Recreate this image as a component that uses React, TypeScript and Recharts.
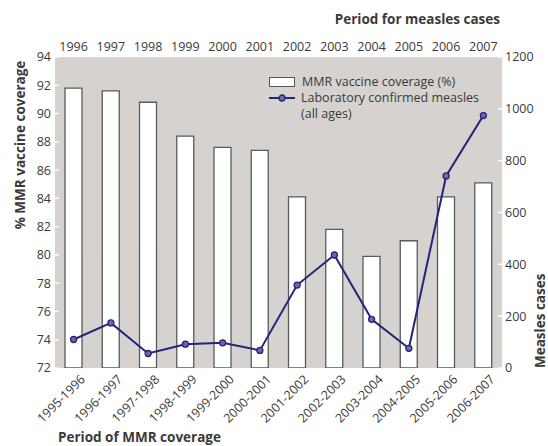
import React from 'react';
import { ComposedChart, Bar, Line, XAxis, YAxis, CartesianGrid, Legend } from 'recharts';

const periods = ['1995-1996', '1996-1997', '1997-1998', '1998-1999', '1999-2000', '2000-2001', '2001-2002', '2002-2003', '2003-2004', '2004-2005', '2005-2006', '2006-2007'];
const years = ['1996', '1997', '1998', '1999', '2000', '2001', '2002', '2003', '2004', '2005', '2006', '2007'];
const coverage = [91.8, 91.6, 90.8, 88.4, 87.6, 87.4, 84.1, 81.8, 79.9, 81.0, 84.1, 85.1];
const measles = [110, 174, 56, 92, 97, 68, 320, 436, 188, 76, 741, 974];
const leftTicks = [72, 74, 76, 78, 80, 82, 84, 86, 88, 90, 92, 94];
const rightTicks = [0, 200, 400, 600, 800, 1000, 1200];
const boundaryTicks = [1, 2, 3, 4, 5, 6, 7, 8, 9, 10, 11];

const data = periods.map((p, i) => ({ period: p, year: years[i], coverage: coverage[i], measles: measles[i] }));

const FONT = '"Open Sans", sans-serif';
const TEXT = '#3a3a3a';
const NAVY = '#25237a';

const BottomTick = (props: any) => {
  const { x, y, payload } = props;
  return (
    <g transform={`translate(${x + 6},${y + 4})`}>
      <text x={0} y={0} dy="0.7em" textAnchor="end" transform="rotate(-45)" fontFamily={FONT} fontSize={12.5} fill={TEXT}>
        {payload.value}
      </text>
    </g>
  );
};

const LegendContent = () => (
  <div style={{ fontFamily: FONT, fontSize: 12.5, color: TEXT, lineHeight: '16px', whiteSpace: 'nowrap' }}>
    <div style={{ display: 'flex', alignItems: 'center', height: 16 }}>
      <div style={{ width: 24, height: 8, background: '#fff', border: '1px solid #555', marginRight: 7 }} />
      <span>MMR vaccine coverage (%)</span>
    </div>
    <div style={{ display: 'flex', alignItems: 'center', height: 16 }}>
      <svg width={26} height={10} style={{ marginRight: 6 }}>
        <line x1={0} y1={5} x2={26} y2={5} stroke={NAVY} strokeWidth={2} />
        <circle cx={13} cy={5} r={3} fill="#6b69a8" stroke={NAVY} strokeWidth={1.3} />
      </svg>
      <span>Laboratory confirmed measles</span>
    </div>
    <div style={{ paddingLeft: 32, height: 16 }}>(all ages)</div>
  </div>
);

export default function App() {
  return (
    <div style={{ position: 'absolute', left: 0, top: 0, width: 548, height: 446, background: '#fff', overflow: 'hidden' }}>
      <ComposedChart width={548} height={446} data={data} margin={{ top: 32, right: 6, bottom: 18, left: 20 }}>
        <CartesianGrid fill="#d6d2cf" stroke="none" horizontal={false} vertical={false} />
        <XAxis xAxisId="gridBottom" type="number" domain={[0, 12]} ticks={boundaryTicks} orientation="bottom" height={0}
          tick={false} tickSize={-4} tickLine={{ stroke: '#fff', strokeWidth: 1.5 }} axisLine={false} />
        <XAxis xAxisId="gridTop" type="number" domain={[0, 12]} ticks={boundaryTicks} orientation="top" height={0}
          tick={false} tickSize={-4} tickLine={{ stroke: '#fff', strokeWidth: 1.5 }} axisLine={false} />
        <XAxis xAxisId="bottom" dataKey="period" orientation="bottom" height={60} interval={0}
          tick={<BottomTick />} tickLine={false} tickSize={0} axisLine={false} />
        <XAxis xAxisId="top" dataKey="year" orientation="top" height={25} interval={0}
          tick={{ fontFamily: FONT, fontSize: 12.5, fill: TEXT }} tickLine={false} tickSize={0} tickMargin={6} axisLine={false} />
        <YAxis yAxisId="left" orientation="left" domain={[72, 94]} ticks={leftTicks} width={35} interval={0}
          tick={{ fontFamily: FONT, fontSize: 12.5, fill: TEXT }} tickSize={-4} tickMargin={8}
          tickLine={{ stroke: '#fff', strokeWidth: 1.5 }} axisLine={false} allowDataOverflow />
        <YAxis yAxisId="right" orientation="right" domain={[0, 1200]} ticks={rightTicks} width={40} interval={0}
          tick={{ fontFamily: FONT, fontSize: 12.5, fill: TEXT }} tickSize={-4} tickMargin={7}
          tickLine={{ stroke: '#fff', strokeWidth: 1.5 }} axisLine={false} />
        <Bar xAxisId="bottom" yAxisId="left" dataKey="coverage" barSize={17} fill="#ffffff" stroke="#5a5a5a" strokeWidth={1.3} isAnimationActive={false} />
        <Line xAxisId="top" yAxisId="right" dataKey="measles" stroke={NAVY} strokeWidth={2}
          dot={{ r: 3, fill: '#6b69a8', stroke: NAVY, strokeWidth: 1.3 }} activeDot={false} isAnimationActive={false} />
        <Legend content={<LegendContent />} layout="horizontal" verticalAlign="middle" align="center"
          wrapperStyle={{ left: 269, top: 74, width: 240 }} />
        <text x={500} y={24} textAnchor="end" fontFamily={FONT} fontSize={13.5} fontWeight={700} fill={TEXT}>Period for measles cases</text>
        <text x={58} y={442} textAnchor="start" fontFamily={FONT} fontSize={13.5} fontWeight={700} fill={TEXT}>Period of MMR coverage</text>
        <text transform="translate(25,145) rotate(-90)" textAnchor="middle" fontFamily={FONT} fontSize={13.5} fontWeight={700} fill={TEXT}>% MMR vaccine coverage</text>
        <text transform="translate(545,368) rotate(-90)" textAnchor="start" fontFamily={FONT} fontSize={13.5} fontWeight={700} fill={TEXT}>Measles cases</text>
      </ComposedChart>
    </div>
  );
}
